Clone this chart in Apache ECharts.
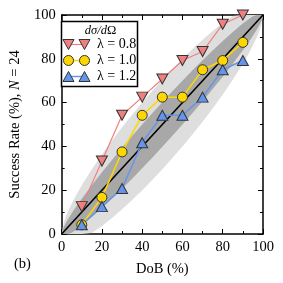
<!DOCTYPE html>
<html><head><meta charset="utf-8">
<script src="https://cdn.jsdelivr.net/npm/echarts@6/dist/echarts.min.js"></script>
<style>html,body{margin:0;padding:0;background:#fff}#c{width:283px;height:283px}</style>
</head><body><div id="c"></div>
<script>
var dob = [10, 20, 30, 40, 50, 60, 70, 80, 90];
var lam08 = [12.5, 33.3, 54.2, 62.5, 70.8, 79.2, 83.3, 95.8, 100];
var lam10 = [4.2, 16.7, 37.5, 54.2, 62.5, 62.5, 75.0, 79.2, 87.5];
var lam12 = [4.2, 12.5, 20.8, 41.7, 54.2, 54.2, 62.5, 75.0, 79.2];
var seriesNames = ['λ = 0.8', 'λ = 1.0', 'λ = 1.2'];
var diagX = [0, 100];
var diagY = [0, 100];
// confidence bands
var bandX     = [0, 1, 2, 3, 5, 7.5, 10, 15, 20, 25, 30, 35, 40, 45, 50, 55, 60, 65, 70, 75, 80, 85, 90, 92.5, 95, 97, 98, 99, 100];
var darkLow   = [0, 0, 0, 0, 0.55, 2.12, 3.88, 7.71, 11.84, 16.16, 20.65, 25.26, 30.0, 34.85, 39.79, 44.85, 50.0, 55.26, 60.65, 66.16, 71.84, 77.71, 83.88, 87.12, 90.55, 93.52, 95.14, 96.97, 100];
var darkHigh  = [0, 3.03, 4.86, 6.48, 9.45, 12.88, 16.12, 22.29, 28.16, 33.84, 39.35, 44.74, 50.0, 55.15, 60.21, 65.15, 70.0, 74.74, 79.35, 83.84, 88.16, 92.29, 96.12, 97.88, 99.45, 100, 100, 100, 100];
var lightLow  = [0, 0, 0, 0, 0, 0, 0, 0.42, 3.68, 7.32, 11.3, 15.52, 20.0, 24.7, 29.58, 34.7, 40.0, 45.52, 51.3, 57.32, 63.68, 70.42, 77.76, 81.74, 86.1, 90.04, 92.28, 94.94, 100];
var lightHigh = [0, 5.06, 7.72, 9.96, 13.9, 18.26, 22.24, 29.58, 36.32, 42.68, 48.7, 54.48, 60.0, 65.3, 70.42, 75.3, 80.0, 84.48, 88.7, 92.68, 96.32, 99.58, 100, 100, 100, 100, 100, 100, 100];
var xTicks = [0, 20, 40, 60, 80, 100];

var FONT = '"Liberation Serif", "DejaVu Serif", serif';
var FS = 14.5;
var RED = '#f08080', YEL = '#ffd700', BLU = '#6495ed', EDGE = '#333333';

function pairs(xs, ys) { return xs.map(function (x, i) { return [x, ys[i]]; }); }
function bandSeries(lo, hi, color) {
  return {
    type: 'custom', silent: true, z: 1,
    data: [[0, 0]],
    renderItem: function (params, api) {
      var pts = [];
      for (var i = 0; i < bandX.length; i++) pts.push(api.coord([bandX[i], hi[i]]));
      for (var j = bandX.length - 1; j >= 0; j--) pts.push(api.coord([bandX[j], lo[j]]));
      return { type: 'polygon', shape: { points: pts }, style: { fill: color } };
    }
  };
}
function axisCommon(extra) {
  var a = {
    type: 'value', min: 0, max: 100, interval: 20,
    axisLine: { show: true, onZero: false, lineStyle: { color: '#000', width: 1.5 } },
    axisTick: { show: true, inside: true, length: 5, lineStyle: { color: '#000', width: 1 } },
    minorTick: { show: true, splitNumber: 2, length: 3, lineStyle: { color: '#000', width: 1 } },
    splitLine: { show: false },
    axisLabel: { show: true, fontFamily: FONT, fontSize: FS, color: '#000', margin: 6,
      formatter: function (v) { return xTicks.indexOf(v) >= 0 ? String(v) : ''; } }
  };
  for (var k in extra) a[k] = extra[k];
  return a;
}
function lineSeries(name, ys, color, symbol, rotate, size, lw) {
  return {
    name: name, type: 'line', data: pairs(dob, ys), z: 5,
    symbol: symbol, symbolSize: size, symbolRotate: rotate,
    lineStyle: { color: color, width: lw },
    itemStyle: { color: color, borderColor: EDGE, borderWidth: 1 },
    emphasis: { disabled: true }, animation: false
  };
}

// legend geometry
var LX = 61.5, LY = 21.5, LW = 76, LH = 65;
var rows = [44.5, 60.5, 76.5];
var mk1 = 68.5, mk2 = 84.5, txtX = 97;
function legendMarker(kind, cx, cy, color) {
  if (kind === 'circle') return { type: 'circle', shape: { cx: cx, cy: cy, r: 5 }, style: { fill: color, stroke: EDGE, lineWidth: 1 }, z: 101 };
  if (kind === 'down') return { type: 'polygon', shape: { points: [[cx - 5.5, cy - 5], [cx + 5.5, cy - 5], [cx, cy + 5]] }, style: { fill: color, stroke: EDGE, lineWidth: 1 }, z: 101 };
  return { type: 'polygon', shape: { points: [[cx - 5.5, cy + 5], [cx + 5.5, cy + 5], [cx, cy - 5]] }, style: { fill: color, stroke: EDGE, lineWidth: 1 }, z: 101 };
}
var legendDefs = [['down', RED, 1.2], ['circle', YEL, 1.5], ['up', BLU, 1.5]];
var gfx = [
  { type: 'rect', shape: { x: LX, y: LY, width: LW, height: LH }, style: { fill: '#fff', stroke: '#000', lineWidth: 1.5 }, z: 100 },
  { type: 'text', x: 100.5, y: 30.5, z: 101, style: { text: '{i|dσ/d}{n|Ω}', align: 'center', verticalAlign: 'middle',
      rich: { i: { fontFamily: FONT, fontStyle: 'italic', fontSize: 12.5, fill: '#000' }, n: { fontFamily: FONT, fontSize: 12.5, fill: '#000' } } } },
  { type: 'text', x: 14, y: 264, z: 101, style: { text: '(b)', font: FS + 'px ' + FONT, fill: '#000', verticalAlign: 'middle' } }
];
legendDefs.forEach(function (d, i) {
  var y = rows[i];
  gfx.push({ type: 'line', shape: { x1: mk1, y1: y, x2: mk2, y2: y }, style: { stroke: d[1], lineWidth: d[2] }, z: 100 });
  gfx.push(legendMarker(d[0], mk1, y, d[1]));
  gfx.push(legendMarker(d[0], mk2, y, d[1]));
  gfx.push({ type: 'text', x: txtX, y: y, z: 101, style: { text: seriesNames[i], font: '14px ' + FONT, fill: '#000', verticalAlign: 'middle' } });
});

var chart = echarts.init(document.getElementById('c'), null, { renderer: 'canvas' });
chart.setOption({
  animation: false,
  backgroundColor: '#fff',
  grid: { left: 57, right: 20, top: 15, bottom: 49, containLabel: false },
  xAxis: [
    axisCommon({ position: 'bottom', name: 'DoB (%)', nameLocation: 'middle', nameGap: 28,
      nameTextStyle: { fontFamily: FONT, fontSize: FS, color: '#000' } }),
    axisCommon({ position: 'top', axisLabel: { show: false } })
  ],
  yAxis: [
    axisCommon({ position: 'left', name: 'Success Rate (%), {i|N} = 24', nameLocation: 'middle', nameGap: 37, nameRotate: 90,
      nameTextStyle: { fontFamily: FONT, fontSize: FS, color: '#000',
        rich: { i: { fontFamily: FONT, fontStyle: 'italic', fontSize: FS, color: '#000' } } } }),
    axisCommon({ position: 'right', axisLabel: { show: false } })
  ],
  series: [
    bandSeries(lightLow, lightHigh, '#dedede'),
    bandSeries(darkLow, darkHigh, '#a8a8a8'),
    { type: 'line', data: pairs(diagX, diagY), symbol: 'none', z: 3, silent: true,
      lineStyle: { color: '#000', width: 1.6 } },
    lineSeries(seriesNames[0], lam08, RED, 'triangle', 180, [11, 10], 1.2),
    lineSeries(seriesNames[1], lam10, YEL, 'circle', 0, 10, 1.5),
    lineSeries(seriesNames[2], lam12, BLU, 'triangle', 0, [11, 10], 1.5)
  ],
  graphic: gfx
});
</script></body></html>
